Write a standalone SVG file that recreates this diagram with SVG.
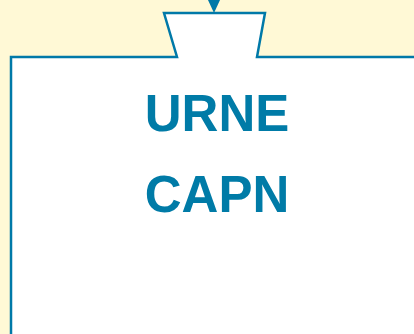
<svg xmlns="http://www.w3.org/2000/svg" width="414" height="334" viewBox="0 0 414 334">
<style>
.ln{fill:none;stroke:#0079A8;stroke-width:2.5}
.t{font-family:"Liberation Sans",Arial,sans-serif;font-weight:bold;font-size:51px;fill:#007BA7;text-anchor:middle}
</style>
<rect x="0" y="0" width="414" height="334" fill="#FFF9D6"/>
<g id="shape">
<path d="M11,334 L11,57 L177,57 L164,13 L265,13 L257,57 L414,57 L414,334 Z" fill="#FFFFFF"/>
<path class="ln" d="M11,334 L11,57 L177,57 L164,13 L265,13 L257,57 L414,57"/>
</g>
<g id="connectors">
<polygon points="208,0 220,0 214,13" fill="#0079A8"/>
</g>
<g id="label">
<text class="t" x="217" y="131">URNE</text>
<text class="t" x="217" y="212">CAPN</text>
</g>
</svg>
